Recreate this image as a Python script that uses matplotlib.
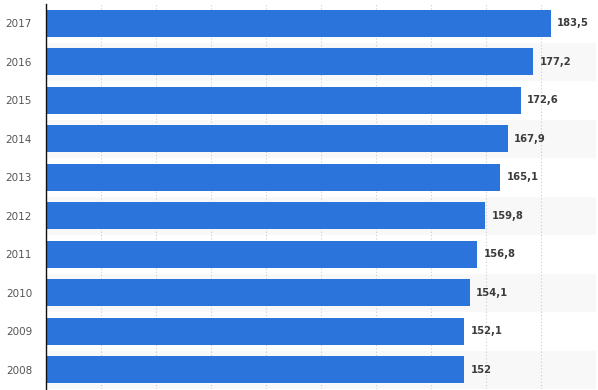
import numpy as np
import matplotlib.pyplot as plt

years = ["2017", "2016", "2015", "2014", "2013", "2012", "2011", "2010", "2009", "2008"]
values = [183.5, 177.2, 172.6, 167.9, 165.1, 159.8, 156.8, 154.1, 152.1, 152.0]
labels = ["183,5", "177,2", "172,6", "167,9", "165,1", "159,8", "156,8", "154,1", "152,1", "152"]

W, H = 598, 390
fig = plt.figure(figsize=(W / 100, H / 100), dpi=100)
ax = fig.add_axes([46 / W, 1 / H, 550 / W, 385 / H])

y = np.arange(len(years))
# alternating row stripes
for i in y:
    if i % 2 == 1:
        ax.axhspan(i - 0.5, i + 0.5, color="#f8f8f8", zorder=0, lw=0)

ax.barh(y, values, height=0.7, color="#2a74db", zorder=2)
for yi, v, lab in zip(y, values, labels):
    ax.text(v + 2.3, yi, lab, va="center", ha="left", fontsize=7.2,
            fontweight="bold", color="#3c3c3c", zorder=3)

ax.set_xlim(0, 200)
ax.set_ylim(len(years) - 0.5, -0.5)
ax.set_xticks(np.arange(0, 201, 20))
ax.xaxis.grid(True, linestyle=(0, (1, 2)), color="#cccccc", lw=0.8, zorder=1)
ax.tick_params(axis="x", length=0, labelbottom=False)
ax.set_yticks(y)
ax.set_yticklabels(years, fontsize=7.5, color="#555555")
ax.tick_params(axis="y", length=0, pad=10)
for s in ["top", "right", "bottom"]:
    ax.spines[s].set_visible(False)
ax.spines["left"].set_color("#111111")
ax.spines["left"].set_linewidth(1.0)

fig.savefig("out.png", dpi=100)
